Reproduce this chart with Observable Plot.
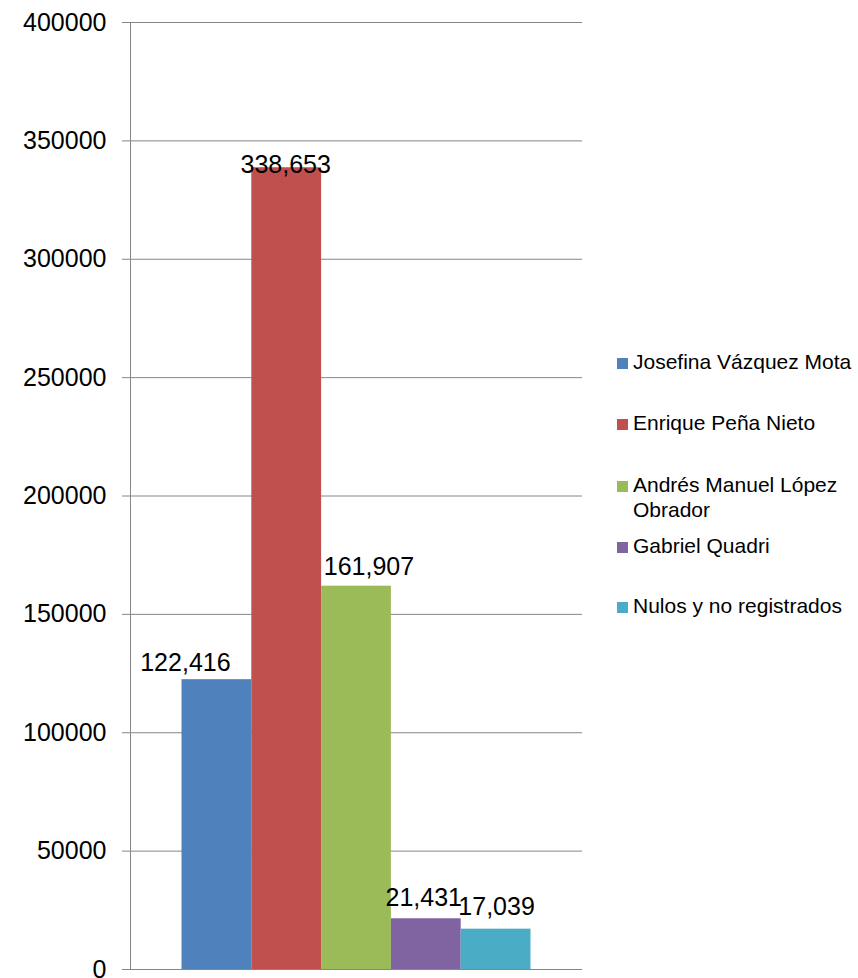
<!DOCTYPE html>
<html>
<head>
<meta charset="utf-8">
<script src="https://cdn.jsdelivr.net/npm/d3@7"></script>
<script src="https://cdn.jsdelivr.net/npm/@observablehq/plot@0.6"></script>
<style>
  html, body { margin: 0; padding: 0; background: #fff; }
  #wrap { position: relative; width: 858px; height: 978px; overflow: hidden; font-family: "Liberation Sans", Arial, sans-serif; }
  #wrap svg { position: absolute; left: 0; top: 0; overflow: visible; }
  .leg { position: absolute; left: 633px; width: 222px; font-size: 21px; line-height: 25px; color: #000; }
  .leg .sw { position: absolute; left: -16px; top: 8.8px; width: 11px; height: 11px; }
</style>
</head>
<body>
<div id="wrap"></div>
<script>
const categories = ["Josefina Vázquez Mota", "Enrique Peña Nieto", "Andrés Manuel López Obrador", "Gabriel Quadri", "Nulos y no registrados"];
const votes = [122416, 338653, 161907, 21431, 17039];
const colors = ["#4F81BD", "#C0504D", "#9BBB59", "#8064A2", "#4BACC6"];
const yTicks = [0, 50000, 100000, 150000, 200000, 250000, 300000, 350000, 400000];

const data = categories.map((c, i) => ({name: c, value: votes[i]}));

// label nudges (layout only): [dx, dy] relative to bar top / center
const nudges = [[-31.5, -8.5], [-1, 5], [12.5, -11], [-2.5, -13], [0.5, -14]];
const gridColor = "#868686";

const chart = Plot.plot({
  width: 858,
  height: 978,
  marginLeft: 130,
  marginRight: 276,
  marginTop: 22,
  marginBottom: 9,
  style: {fontFamily: "'Liberation Sans', Arial, sans-serif", background: "transparent", overflow: "visible"},
  x: {domain: categories, axis: null, paddingInner: 0, paddingOuter: 0.738, round: false},
  y: {domain: [0, 400000], axis: null},
  color: {domain: categories, range: colors},
  marks: [
    Plot.gridY(yTicks, {stroke: gridColor, strokeOpacity: 1, strokeWidth: 1}),
    Plot.axisY(yTicks, {tickSize: 8, tickPadding: 16, stroke: gridColor, strokeOpacity: 1, fontSize: 25, fill: "#000", tickFormat: d => String(d), label: null}),
    Plot.frame({anchor: "left", stroke: gridColor, strokeOpacity: 1}),
    Plot.barY(data, {x: "name", y: "value", fill: "name"}),
    ...data.map((d, i) => Plot.text([d], {
      x: "name", y: "value",
      text: v => d3.format(",")(v.value),
      lineAnchor: "bottom",
      textAnchor: "middle",
      fontSize: 25,
      fill: "#000",
      dx: nudges[i][0],
      dy: nudges[i][1]
    }))
  ]
});

const wrap = document.getElementById("wrap");
wrap.appendChild(chart);

// legend
const legendTops = [349.2, 410.2, 471.9, 533.2, 592.9];
categories.forEach((c, i) => {
  const item = document.createElement("div");
  item.className = "leg";
  item.style.top = legendTops[i] + "px";
  const sw = document.createElement("span");
  sw.className = "sw";
  sw.style.background = colors[i];
  item.appendChild(sw);
  item.appendChild(document.createTextNode(c));
  wrap.appendChild(item);
});
</script>
</body>
</html>
